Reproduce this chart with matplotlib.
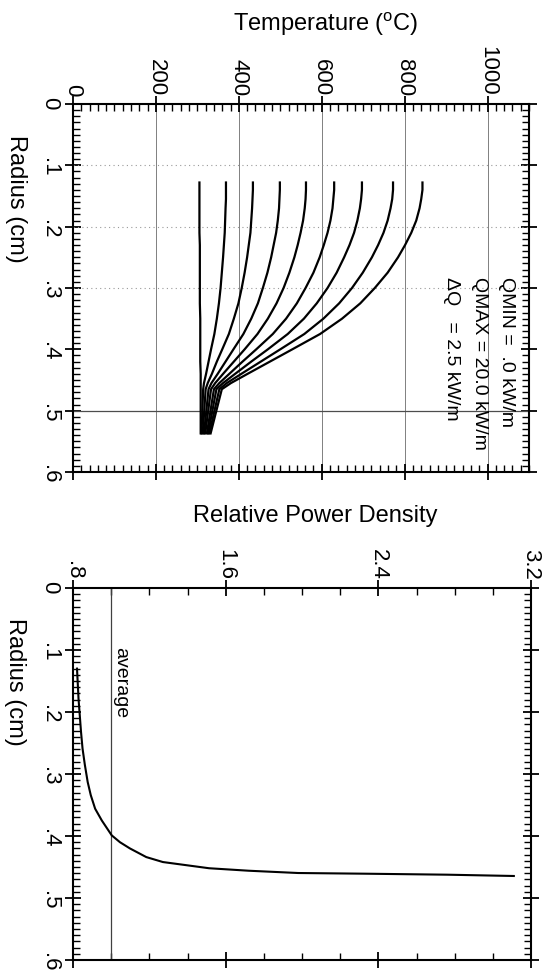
import matplotlib
matplotlib.use('Agg')
import matplotlib.pyplot as plt
from matplotlib.ticker import MultipleLocator, FixedLocator, FuncFormatter

plt.rcParams['font.family'] = ['Liberation Sans', 'DejaVu Sans']
plt.rcParams['mathtext.default'] = 'regular'

# --- temperature profiles, one per linear power (kW/m) ---
q_levels = [0.0, 2.5, 5.0, 7.5, 10.0, 12.5, 15.0, 17.5, 20.0]
radius = [0.128, 0.14, 0.155, 0.17, 0.19, 0.21, 0.23, 0.25, 0.275, 0.30,
          0.325, 0.35, 0.375, 0.40, 0.42, 0.44, 0.455, 0.465, 0.537]
temps = [
    [305, 305, 305, 305, 305, 305, 306, 306, 306, 306, 306, 307, 307, 307, 307, 308, 308, 308, 308],
    [369, 369, 369, 368, 367, 366, 364, 362, 359, 356, 352, 347, 341, 333, 327, 321, 316, 314, 310],
    [434, 434, 433, 432, 430, 428, 424, 420, 414, 407, 399, 388, 376, 360, 347, 335, 325, 320, 313],
    [499, 499, 498, 497, 494, 490, 484, 478, 469, 458, 446, 430, 411, 387, 368, 349, 334, 327, 316],
    [562, 562, 561, 559, 555, 549, 542, 534, 522, 508, 491, 470, 445, 414, 388, 362, 343, 333, 319],
    [630, 630, 628, 626, 621, 614, 605, 595, 580, 561, 540, 514, 482, 442, 409, 377, 353, 340, 323],
    [697, 697, 695, 692, 686, 678, 667, 654, 636, 614, 588, 557, 518, 470, 430, 391, 362, 346, 326],
    [772, 772, 770, 766, 759, 749, 736, 721, 699, 673, 642, 604, 558, 500, 453, 406, 371, 353, 329],
    [843, 843, 840, 836, 828, 816, 801, 784, 759, 728, 693, 649, 596, 529, 475, 421, 381, 359, 332],
]

# --- relative power density ---
radius_p = [0.130, 0.179, 0.232, 0.259, 0.285, 0.313, 0.334, 0.356, 0.375, 0.399, 0.410,
            0.420, 0.434, 0.442, 0.447, 0.452, 0.456, 0.4597, 0.4608, 0.4624, 0.4645]
power = [0.821, 0.829, 0.842, 0.850, 0.862, 0.877, 0.893, 0.916, 0.951, 1.003, 1.046,
         1.098, 1.184, 1.271, 1.392, 1.513, 1.72, 1.98, 2.33, 2.76, 3.11]
p_average = 1.0

temp_ticks = [0, 200, 400, 600, 800, 1000]
power_ticks = [0.8, 1.6, 2.4, 3.2]
radius_ticks = [0, 0.1, 0.2, 0.3, 0.4, 0.5, 0.6]
dotted_rows = [0.1, 0.2, 0.3]
solid_row = 0.5

fs = 16


def short_fmt(v, pos):
    if abs(v) < 1e-9:
        return '0'
    s = '%.1f' % v
    return s[1:] if s.startswith('0') else s


def style_axes(ax):
    for sp in ax.spines.values():
        sp.set_linewidth(1.5)
    ax.tick_params(which='major', direction='inout', length=11, width=1.3,
                   top=True, bottom=True, left=True, right=True,
                   labeltop=True, labelbottom=False, labelsize=fs, pad=1)
    ax.tick_params(which='minor', direction='in', length=5, width=1.0,
                   top=True, bottom=True, left=True, right=True)
    ax.tick_params(axis='x', labelrotation=-90)
    ax.tick_params(axis='y', labelrotation=-90, pad=4)
    ax.set_ylim(0.6, 0)
    ax.yaxis.set_major_locator(FixedLocator(radius_ticks))
    ax.yaxis.set_minor_locator(MultipleLocator(0.01))
    ax.yaxis.set_major_formatter(FuncFormatter(short_fmt))


fig = plt.figure(figsize=(5.46, 9.79), dpi=100)

# top panel: temperature
ax1 = fig.add_axes([73 / 546, 1 - 473 / 979, 456 / 546, 368 / 979])
style_axes(ax1)
ax1.set_xlim(0, 1100)
ax1.xaxis.set_major_locator(FixedLocator(temp_ticks))
ax1.xaxis.set_minor_locator(MultipleLocator(20))
ax1.grid(axis='x', which='major', color='0.5', lw=0.7)
for r in dotted_rows:
    ax1.axhline(r, color='0.6', lw=0.8, ls=(0, (1, 3)))
ax1.axhline(solid_row, color='0.3', lw=0.9)
for t in temps:
    ax1.plot(t, radius, color='black', lw=1.6)

ax1.text(1046, 0.28, 'QMIN =  .0 kW/m', rotation=-90, ha='center', va='top', fontsize=14)
ax1.text(981, 0.28, 'QMAX = 20.0 kW/m', rotation=-90, ha='center', va='top', fontsize=14)
ax1.text(913, 0.28, '\u0394Q   = 2.5 kW/m', rotation=-90, ha='center', va='top', fontsize=14)

# bottom panel: relative power density
ax2 = fig.add_axes([73 / 546, 1 - 961 / 979, 458 / 546, 372 / 979])
style_axes(ax2)
ax2.set_xlim(0.8, 3.2)
ax2.xaxis.set_major_locator(FixedLocator(power_ticks))
ax2.xaxis.set_minor_locator(MultipleLocator(0.2))
ax2.xaxis.set_major_formatter(FuncFormatter(short_fmt))
ax2.axvline(p_average, color='0.25', lw=0.9)
ax2.text(p_average + 0.005, 0.093, 'average', rotation=-90, ha='left', va='top', fontsize=14)
ax2.plot(power, radius_p, color='black', lw=1.5)

# axis titles
fig.text(326 / 546, 1 - 24 / 979, 'Temperature ($^{o}$C)', ha='center', va='center', fontsize=17)
fig.text(315 / 546, 1 - 516 / 979, 'Relative Power Density', ha='center', va='center', fontsize=17)
fig.text(16 / 546, 1 - 199 / 979, 'Radius (cm)', rotation=-90, ha='center', va='center', fontsize=17)
fig.text(15 / 546, 1 - 682 / 979, 'Radius (cm)', rotation=-90, ha='center', va='center', fontsize=17)

fig.savefig('out.png', dpi=100, facecolor='white')
